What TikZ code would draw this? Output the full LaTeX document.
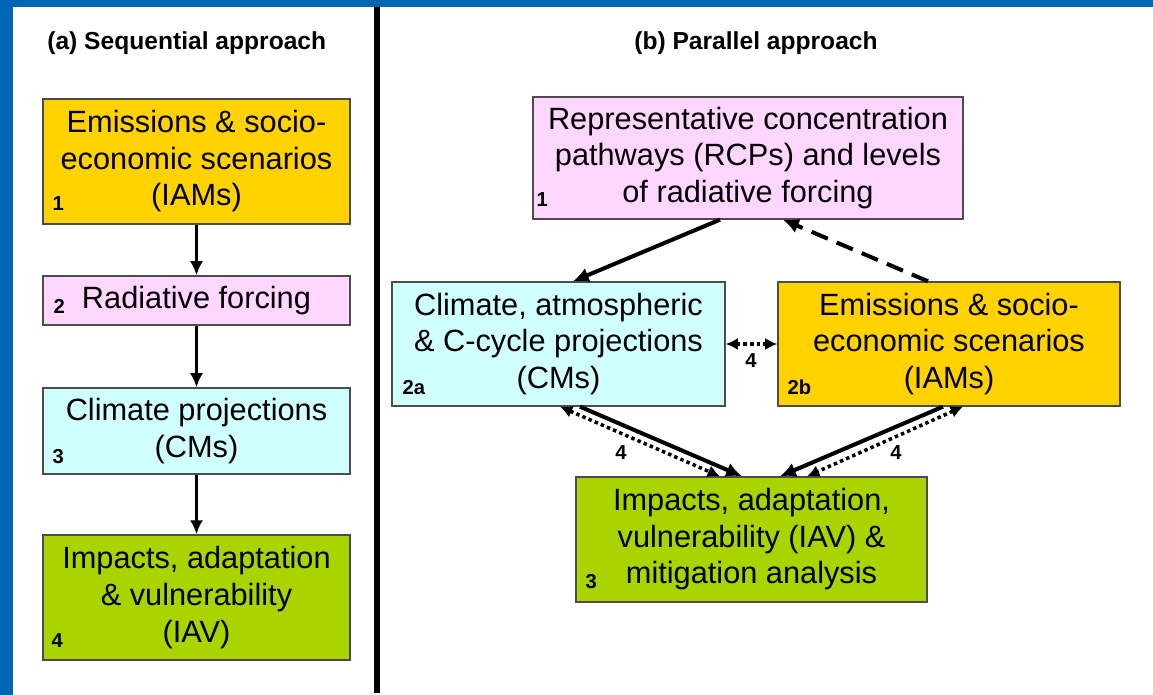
\documentclass[tikz,border=0pt]{standalone}
\usepackage{fontspec}
\setmainfont{Liberation Sans}
\usetikzlibrary{calc,arrows.meta}
\definecolor{iamorange}{RGB}{255,210,0}
\definecolor{rfpink}{RGB}{255,214,255}
\definecolor{cmcyan}{RGB}{208,255,255}
\definecolor{iavgreen}{RGB}{170,212,0}
\definecolor{framebl}{RGB}{0,102,179}
\tikzset{
      box/.style={draw=black!70, line width=0.8pt, inner sep=0pt, align=center,
                  font=\fontsize{17.5}{20.8}\selectfont},
      numlbl/.style={anchor=base west, inner sep=0pt,
                  font=\fontsize{11.5}{13}\selectfont\bfseries},
      arrlbl/.style={inner sep=0pt, font=\fontsize{11.5}{13}\selectfont\bfseries},
      ttl/.style={anchor=base west, inner sep=0pt,
                  font=\fontsize{14}{16}\selectfont\bfseries},
      seqarrow/.style={-{Latex[length=8pt,width=7.5pt]}, line width=1.6pt},
      bigarrow/.style={-{Latex[length=9pt,width=8.5pt]}, line width=2.3pt},
      dasharrow/.style={bigarrow, dash pattern=on 10pt off 5.5pt},
      dotarrow/.style={{Latex[length=7pt,width=7pt]}-{Latex[length=7pt,width=7pt]},
                  line width=2pt, dash pattern=on 2pt off 1.8pt}
}
\begin{document}
\begin{tikzpicture}[x=0.02cm, y=-0.02cm]
                  \useasboundingbox (0,0) rectangle (1153,695);
                  % frame and divider
                  \fill[framebl] (0,0) rectangle (13,695);
                  \fill[framebl] (0,0) rectangle (1153,7);
                  \fill[black] (374,7) rectangle (380,693);

                  % (a) sequential approach
                  \node[ttl] (ttla) at (47,50) {(a) Sequential approach};
                  \node[box, fill=iamorange, minimum width=6.14cm, minimum height=2.5cm] (lemis) at (196.5,161.5)
                        {Emissions \& socio-\\economic scenarios\\(IAMs)};
                  \node[box, fill=rfpink, minimum width=6.14cm, minimum height=0.98cm] (lrf) at (196.5,300.5)
                        {Radiative forcing};
                  \node[box, fill=cmcyan, minimum width=6.14cm, minimum height=1.72cm] (lclim) at (196.5,431)
                        {Climate projections\\(CMs)};
                  \node[box, fill=iavgreen, minimum width=6.14cm, minimum height=2.5cm] (limp) at (196.5,597.5)
                        {Impacts, adaptation\\\& vulnerability\\(IAV)};
                  \node[numlbl] (n1) at ($(lemis.south west)+(10,-14)$) {1};
                  \node[numlbl] (n2) at ($(lrf.south west)+(11,-12)$) {2};
                  \node[numlbl] (n3) at ($(lclim.south west)+(10,-11)$) {3};
                  \node[numlbl] (n4) at ($(limp.south west)+(9,-13)$) {4};
                  \draw[seqarrow] (lemis) -- (lrf);
                  \draw[seqarrow] (lrf) -- (lclim);
                  \draw[seqarrow] (lclim) -- (limp);

                  % (b) parallel approach
                  \node[ttl] (ttlb) at (634,50) {(b) Parallel approach};
                  \node[box, fill=rfpink, minimum width=8.6cm, minimum height=2.44cm] (rcp) at (748,158)
                        {Representative concentration\\pathways (RCPs) and levels\\of radiative forcing};
                  \node[box, fill=cmcyan, minimum width=6.66cm, minimum height=2.48cm] (cms) at (558.5,344)
                        {Climate, atmospheric\\\& C-cycle projections\\(CMs)};
                  \node[box, fill=iamorange, minimum width=6.84cm, minimum height=2.48cm] (iams) at (949,344)
                        {Emissions \& socio-\\economic scenarios\\(IAMs)};
                  \node[box, fill=iavgreen, minimum width=7.02cm, minimum height=2.5cm] (iav) at (751.5,539.5)
                        {Impacts, adaptation,\\vulnerability (IAV) \&\\mitigation analysis};
                  \node[numlbl] (m1) at ($(rcp.south west)+(4,-13)$) {1};
                  \node[numlbl] (m2a) at ($(cms.south west)+(11,-12)$) {2a};
                  \node[numlbl] (m2b) at ($(iams.south west)+(10,-12)$) {2b};
                  \node[numlbl] (m3) at ($(iav.south west)+(10,-14)$) {3};

                  \draw[bigarrow] ($(rcp.south)+(-28,0)$) -- ($(cms.north)+(14.5,0)$);
                  \draw[dasharrow] ($(iams.north)+(-21,0)$) -- ($(rcp.south)+(35,0)$);
                  \draw[dotarrow] (cms.east) -- (iams.west);
                  \draw[bigarrow] ($(cms.south)+(21.5,0)$) -- ($(iav.north)+(-9.5,0)$);
                  \draw[dotarrow] ($(cms.south)+(1.5,0)$) -- ($(iav.north)+(-31.5,0)$);
                  \draw[bigarrow] ($(iams.south)+(-6,0)$) -- ($(iav.north)+(28.5,0)$);
                  \draw[dotarrow] ($(iams.south)+(14,0)$) -- ($(iav.north)+(55.5,0)$);
                  \node[arrlbl] (f1) at (751,361) {4};
                  \node[arrlbl] (f2) at (621,453) {4};
                  \node[arrlbl] (f3) at (896,453) {4};
\end{tikzpicture}
\end{document}
